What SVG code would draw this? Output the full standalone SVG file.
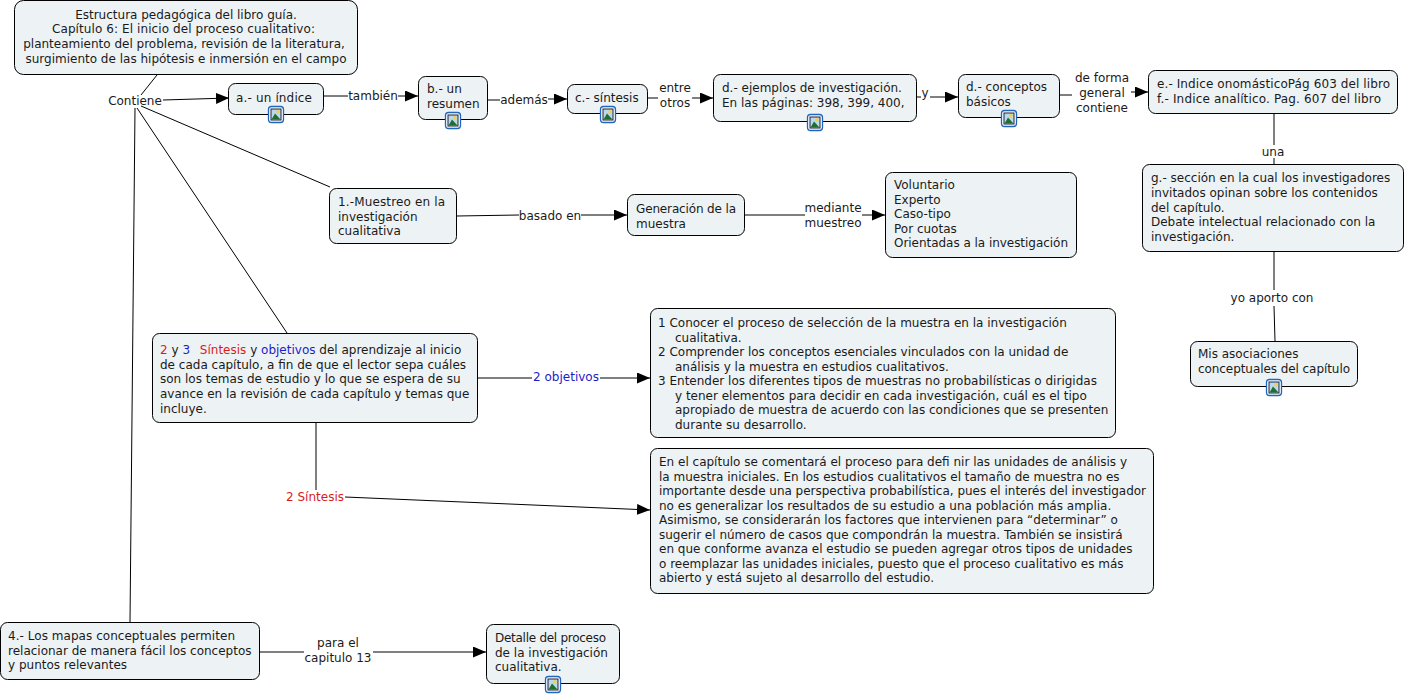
<svg xmlns="http://www.w3.org/2000/svg" width="1406" height="696" viewBox="0 0 1406 696">
<style>
text{font-family:"DejaVu Sans",Verdana,sans-serif;font-size:12px;fill:#1a1a1a}
.n{fill:#edf3f5;stroke:#000;stroke-width:1}
.c{stroke:#000;stroke-width:1;fill:none}
.m{text-anchor:middle}
.r{fill:#d81c1c}.b{fill:#1c1cc8}
</style>
<defs>
<marker id="a" markerUnits="userSpaceOnUse" markerWidth="13" markerHeight="12" refX="13" refY="5.500" orient="auto"><path d="M0 0L13 5.500L0 11Z" fill="#000"/></marker>
<g id="i"><rect x="0.500" y="0.500" width="15" height="16" rx="3" fill="#fff" stroke="#1f66c1" stroke-width="1.300"/><rect x="3" y="3" width="10" height="11" fill="#bcd8ee" stroke="#223" stroke-width="1"/><circle cx="10" cy="5.800" r="1.700" fill="#f0d050"/><path d="M3.500 13.500L7 7.500L12.500 13.500Z" fill="#1f6f30"/></g>
</defs>
<g id="connectors">
<path class="c" d="M157 75L141 95"/>
<path class="c" d="M163 100L229 98" marker-end="url(#a)"/>
<path class="c" d="M324 96H348"/><path class="c" d="M398 96H418" marker-end="url(#a)"/>
<path class="c" d="M488 100H500"/><path class="c" d="M548 99H567" marker-end="url(#a)"/>
<path class="c" d="M647 98H658"/><path class="c" d="M692 98H713" marker-end="url(#a)"/>
<path class="c" d="M917 97H921"/><path class="c" d="M930 97H958" marker-end="url(#a)"/>
<path class="c" d="M1060 95H1072"/><path class="c" d="M1131 92H1148" marker-end="url(#a)"/>
<path class="c" d="M1274 114V145M1274 158V164M1274 252V290M1274 306L1275 341"/>
<path class="c" d="M141 106L330 187M137 108L287 333M135 108L130 622"/>
<path class="c" d="M457 216L519 215"/><path class="c" d="M581 215H627" marker-end="url(#a)"/>
<path class="c" d="M745 215H805"/><path class="c" d="M862 215H885" marker-end="url(#a)"/>
<path class="c" d="M478 378H532"/><path class="c" d="M600 378H650" marker-end="url(#a)"/>
<path class="c" d="M316 423V490"/><path class="c" d="M345 497L650 510" marker-end="url(#a)"/>
<path class="c" d="M260 652H304"/><path class="c" d="M373 652H486" marker-end="url(#a)"/>
</g>
<g id="n0"><rect class="n" x="14.500" y="0.500" width="343" height="74" rx="9"/>
<text class="m" x="186" y="19">Estructura pedagógica del libro guía.</text>
<text class="m" x="183.500" y="33" textLength="263">Capítulo 6: El inicio del proceso cualitativo:</text>
<text class="m" x="184" y="48">planteamiento del problema, revisión de la literatura,</text>
<text class="m" x="186" y="63">surgimiento de las hipótesis e inmersión en el campo</text></g>
<g id="l-contiene"><text class="m" x="135" y="105">Contiene</text></g>
<g id="n-a"><rect class="n" x="228.500" y="83.500" width="95" height="31" rx="7"/><text x="236" y="102" textLength="76">a.- un índice</text><use href="#i" x="268" y="106"/></g>
<g id="l1"><text class="m" x="373" y="100">también</text></g>
<g id="n-b"><rect class="n" x="418.500" y="76.500" width="69" height="43" rx="7"/><text x="427" y="93">b.- un</text><text x="427" y="108">resumen</text><use href="#i" x="445" y="112"/></g>
<g id="l2"><text class="m" x="524" y="104">además</text></g>
<g id="n-c"><rect class="n" x="567.500" y="84.500" width="80" height="29" rx="7"/><text x="575" y="102">c.- síntesis</text><use href="#i" x="600" y="106"/></g>
<g id="l3"><text class="m" x="675" y="92">entre</text><text class="m" x="675" y="107">otros</text></g>
<g id="n-d"><rect class="n" x="713.500" y="74.500" width="203" height="47" rx="7"/><text x="722" y="92">d.- ejemplos de investigación.</text><text x="722" y="107">En las páginas: 398, 399, 400,</text><use href="#i" x="807" y="114"/></g>
<g id="l4"><text class="m" x="925" y="97">y</text></g>
<g id="n-d2"><rect class="n" x="958.500" y="74.500" width="101" height="43" rx="7"/><text x="966" y="91">d.- conceptos</text><text x="966" y="106">básicos</text><use href="#i" x="1001" y="110"/></g>
<g id="l5"><text class="m" x="1102" y="82">de forma</text><text class="m" x="1102" y="97">general</text><text class="m" x="1102" y="112">contiene</text></g>
<g id="n-e"><rect class="n" x="1148.500" y="70.500" width="249" height="43" rx="7"/><text x="1157" y="88" textLength="233">e.- Indice onomásticoPág 603 del libro</text><text x="1157" y="103" textLength="224">f.- Indice analítico. Pag. 607 del libro</text></g>
<g id="l6"><text class="m" x="1273" y="156">una</text></g>
<g id="n-g"><rect class="n" x="1142.500" y="164.500" width="261" height="87" rx="7"/><text x="1151" y="182">g.- sección en la cual los investigadores</text><text x="1151" y="197">invitados opinan sobre los contenidos</text><text x="1151" y="212">del capítulo.</text><text x="1151" y="226">Debate intelectual relacionado con la</text><text x="1151" y="241">investigación.</text></g>
<g id="l7"><text class="m" x="1272" y="302">yo aporto con</text></g>
<g id="n-mis"><rect class="n" x="1190.500" y="341.500" width="167" height="45" rx="7"/><text x="1198" y="358">Mis asociaciones</text><text x="1198" y="373" textLength="152">conceptuales del capítulo</text><use href="#i" x="1266" y="379"/></g>
<g id="n-1"><rect class="n" x="329.500" y="188.500" width="127" height="55" rx="7"/><text x="338" y="206" textLength="107">1.-Muestreo en la</text><text x="338" y="221">investigación</text><text x="338" y="235">cualitativa</text></g>
<g id="l8"><text class="m" x="550" y="220">basado en</text></g>
<g id="n-gen"><rect class="n" x="627.500" y="194.500" width="117" height="41" rx="7"/><text x="636" y="213" textLength="100">Generación de la</text><text x="636" y="228">muestra</text></g>
<g id="l9"><text class="m" x="833" y="212">mediante</text><text class="m" x="833" y="227">muestreo</text></g>
<g id="n-vol"><rect class="n" x="885.500" y="172.500" width="191" height="85" rx="7"/><text x="894" y="189">Voluntario</text><text x="894" y="204">Experto</text><text x="894" y="218">Caso-tipo</text><text x="894" y="233">Por cuotas</text><text x="894" y="247" textLength="174">Orientadas a la investigación</text></g>
<g id="n-2"><rect class="n" x="152.500" y="333.500" width="325" height="89" rx="7"/>
<text x="160" y="354"><tspan class="r">2</tspan> y <tspan class="b">3</tspan>  <tspan class="r" dx="6">Síntesis</tspan> y <tspan class="b">objetivos</tspan> del aprendizaje al inicio</text>
<text x="160" y="369">de cada capítulo, a fin de que el lector sepa cuáles</text>
<text x="160" y="383">son los temas de estudio y lo que se espera de su</text>
<text x="160" y="398">avance en la revisión de cada capítulo y temas que</text>
<text x="160" y="413">incluye.</text></g>
<g id="l10"><text class="m b" x="566" y="381">2 objetivos</text></g>
<g id="n-obj"><rect class="n" x="650.500" y="308.500" width="465" height="129" rx="7"/>
<text x="658" y="327">1 Conocer el proceso de selección de la muestra en la investigación</text>
<text x="675" y="342">cualitativa.</text>
<text x="658" y="356">2 Comprender los conceptos esenciales vinculados con la unidad de</text>
<text x="675" y="371">análisis y la muestra en estudios cualitativos.</text>
<text x="658" y="385">3 Entender los diferentes tipos de muestras no probabilísticas o dirigidas</text>
<text x="675" y="400">y tener elementos para decidir en cada investigación, cuál es el tipo</text>
<text x="675" y="414">apropiado de muestra de acuerdo con las condiciones que se presenten</text>
<text x="675" y="429">durante su desarrollo.</text></g>
<g id="l11"><text class="m r" x="315" y="501">2 Síntesis</text></g>
<g id="n-sin"><rect class="n" x="650.500" y="448.500" width="503" height="145" rx="7"/>
<text x="659" y="466">En el capítulo se comentará el proceso para defi nir las unidades de análisis y</text>
<text x="659" y="481">la muestra iniciales. En los estudios cualitativos el tamaño de muestra no es</text>
<text x="659" y="495" textLength="487">importante desde una perspectiva probabilística, pues el interés del investigador</text>
<text x="659" y="510">no es generalizar los resultados de su estudio a una población más amplia.</text>
<text x="659" y="524">Asimismo, se considerarán los factores que intervienen para “determinar” o</text>
<text x="659" y="539">sugerir el número de casos que compondrán la muestra. También se insistirá</text>
<text x="659" y="553">en que conforme avanza el estudio se pueden agregar otros tipos de unidades</text>
<text x="659" y="568">o reemplazar las unidades iniciales, puesto que el proceso cualitativo es más</text>
<text x="659" y="582">abierto y está sujeto al desarrollo del estudio.</text></g>
<g id="n-4"><rect class="n" x="0.500" y="622.500" width="259" height="57" rx="7"/><text x="8" y="640" textLength="227">4.- Los mapas conceptuales permiten</text><text x="8" y="655">relacionar de manera fácil los conceptos</text><text x="8" y="669">y puntos relevantes</text></g>
<g id="l12"><text class="m" x="338" y="647">para el</text><text class="m" x="338" y="662">capitulo 13</text></g>
<g id="n-det"><rect class="n" x="486.500" y="624.500" width="133" height="59" rx="7"/><text x="495" y="642" textLength="111">Detalle del proceso</text><text x="495" y="657">de la investigación</text><text x="495" y="671">cualitativa.</text><use href="#i" x="545" y="676"/></g>
</svg>
